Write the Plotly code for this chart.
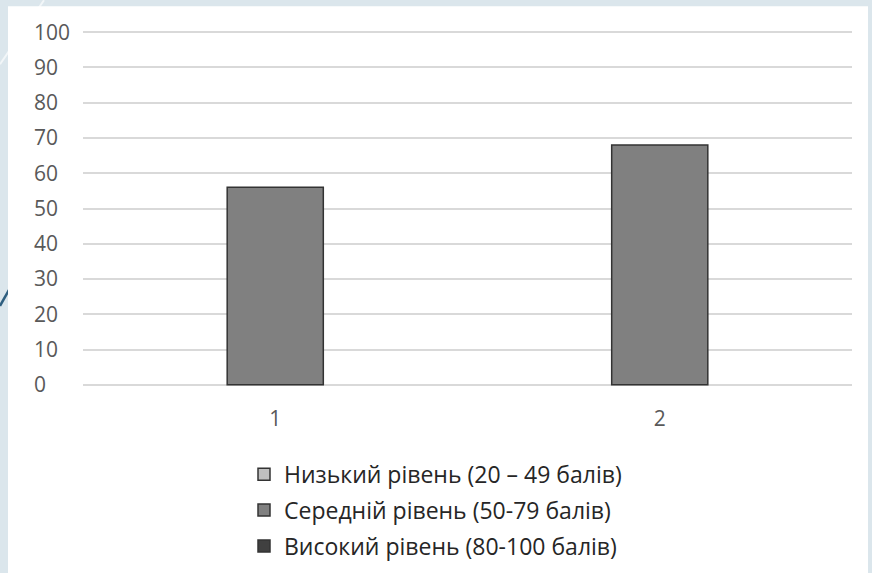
import plotly.graph_objects as go

# ---- data ----
categories = ["1", "2"]
low_level = [None, None]      # Низький рівень
mid_level = [56, 68]          # Середній рівень
high_level = [None, None]     # Високий рівень
series_names = [
    "Низький рівень (20 – 49 балів)",
    "Середній рівень (50-79 балів)",
    "Високий рівень (80-100 балів)",
]
series_colors = ["#bfbfbf", "#808080", "#404040"]
y_ticks = [0, 10, 20, 30, 40, 50, 60, 70, 80, 90, 100]

W, H = 872, 573
# value 100 at y=32px, value 0 at y=385px; range padded on each side
PAD = 8
UNIT = (385 - 32) / 100.0
L, R = 30, 20
T = 32 - PAD * UNIT
B = H - (385 + PAD * UNIT)
PW, PH = W - L - R, H - T - B

def px_x(p):
    return (p - L) / PW

def px_y(p):
    return (H - B - p) / PH

FONT = "Open Sans"

fig = go.Figure()
for name, vals, col in zip(series_names, [low_level, mid_level, high_level], series_colors):
    fig.add_trace(go.Bar(
        x=categories, y=vals, name=name, legendgroup=name,
        marker=dict(color=col, line=dict(color="#333333", width=1.5)),
    ))

shapes = [
    dict(type="line", xref="paper", yref="paper", layer="below",
         x0=px_x(44), y0=px_y(0), x1=px_x(0), y1=px_y(64),
         line=dict(color="#f2f6f8", width=2)),
    dict(type="line", xref="paper", yref="paper", layer="below",
         x0=px_x(0), y0=px_y(306), x1=px_x(9), y1=px_y(290),
         line=dict(color="#2f5f80", width=2.5)),
    dict(type="rect", xref="paper", yref="paper", layer="below",
         x0=px_x(8), y0=px_y(6), x1=px_x(868), y1=px_y(H + 5),
         fillcolor="white", line=dict(width=0)),
]

fig.update_layout(
    width=W, height=H,
    margin=dict(l=L, r=R, t=T, b=B, autoexpand=False),
    paper_bgcolor="#dbe6ec",
    plot_bgcolor="rgba(0,0,0,0)",
    barmode="group",
    bargap=0.25,
    bargroupgap=0,
    shapes=shapes,
    font=dict(family=FONT, color="#595959", size=21),
    xaxis=dict(
        domain=[px_x(83), 1],
        anchor="free", position=px_y(385),
        showgrid=False, zeroline=False, showline=False, ticks="",
        tickfont=dict(size=21, color="#595959"),
        ticklabelstandoff=19,
    ),
    yaxis=dict(
        anchor="free", position=0,
        range=[-PAD, 100 + PAD], tickvals=y_ticks,
        ticklabelposition="inside",
        showgrid=True, gridcolor="#d9d9d9", gridwidth=1.5,
        zeroline=False, showline=False, ticks="",
        tickfont=dict(size=21, color="#595959"),
    ),
    showlegend=True,
    legend=dict(
        x=px_x(244), xanchor="left",
        y=px_y(453), yanchor="top",
        orientation="v",
        traceorder="grouped",
        font=dict(family=FONT, size=23, color="#262626"),
        bgcolor="rgba(0,0,0,0)",
        tracegroupgap=3,
    ),
)

fig.write_html("out.html", config={"displayModeBar": False},
               post_script="document.body.style.margin='0px';")
